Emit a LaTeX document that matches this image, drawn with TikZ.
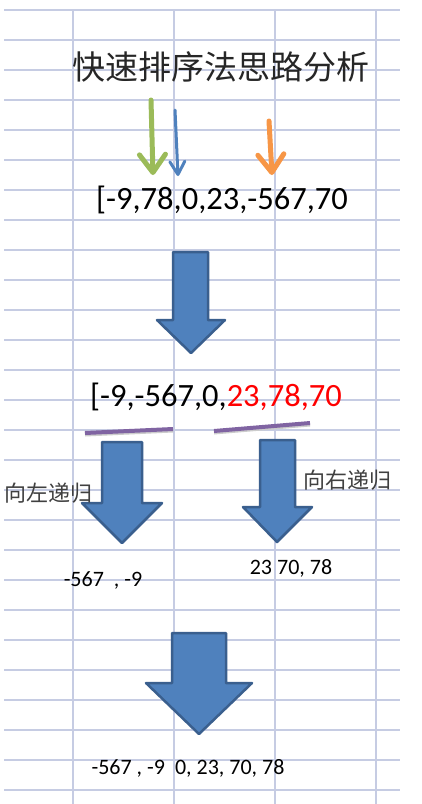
\documentclass[tikz,border=0pt]{standalone}
\usepackage{fontspec}
\setmainfont{Carlito}
\newfontfamily\cjk{Noto Sans CJK SC}
\usetikzlibrary{arrows.meta}
\definecolor{gridc}{HTML}{C6CCE3}
\definecolor{barfill}{HTML}{4F81BD}
\definecolor{barborder}{HTML}{3A5F8E}
\definecolor{ogreen}{HTML}{9BBB59}
\definecolor{oblue}{HTML}{4F81BD}
\definecolor{oorange}{HTML}{F79646}
\definecolor{opurple}{HTML}{8064A2}
\definecolor{ored}{HTML}{FF0000}
\begin{document}
\begin{tikzpicture}[x=1pt,y=-1pt,
  gridline/.style={draw=gridc, line width=1.2pt},
  blockarrow/.style={fill=barfill, draw=barborder, line width=2.5pt, line join=round},
  bigtext/.style={inner sep=0pt, font=\fontsize{32.5}{38}\selectfont},
  smalltext/.style={inner sep=0pt, font=\fontsize{22}{26}\selectfont},
  cjklabel/.style={inner sep=0pt, text=black!75, font=\cjk\fontsize{22}{26}\selectfont},
  pointer/.style={line cap=round, -{Straight Barb[round,length=18pt,width=26pt]}},
  underline/.style={draw=opurple, line width=4pt},
  ushadow/.style={draw=black!20, line width=4pt}
]
\useasboundingbox (0,0) rectangle (422,804);
\fill[white] (0,0) rectangle (422,804);
% grid
\foreach \k in {0,...,26} \draw[gridline] (4,10+30*\k) -- (400,10+30*\k);
\foreach \x in {73,174,275,376} \draw[gridline] (\x,10) -- (\x,804);

% title
\node[inner sep=0pt, text=black!85, font=\cjk\fontsize{33}{38}\selectfont] (title) at (221,67) {快速排序法思路分析};

% first array
\node[bigtext] (a1) at (222,200) {[-9,78,0,23,-567,70};

% pointer arrows
\coordinate (gs) at (151,100);
\coordinate (ge) at (153,175);
\coordinate (bs) at (175,110);
\coordinate (be) at (178,176);
\coordinate (os) at (269,121);
\coordinate (oe) at (272,175);
\draw[pointer, draw=ogreen, line width=5pt] (gs) -- (ge);
\draw[line cap=round, draw=oblue, line width=3pt, -{Straight Barb[round,length=13pt,width=15pt]}] (bs) -- (be);
\draw[pointer, draw=oorange, line width=5pt] (os) -- (oe);

% big arrow 1
\draw[blockarrow] (173,252) -- (208,252) -- (208,320) -- (225,320) -- (191,353) -- (157,320) -- (173,320) -- cycle;

% second array
\node[bigtext] (a2) at (216,397) {[-9,-567,0,\textcolor{ored}{23,78,70}};

% underlines
\coordinate (u1s) at (85,433);
\coordinate (u1e) at (173,429);
\coordinate (u2s) at (214,431);
\coordinate (u2e) at (310,423);
\draw[ushadow] ([yshift=-1.5pt]u1s) -- ([yshift=-1.5pt]u1e);
\draw[ushadow] ([yshift=-1.5pt]u2s) -- ([yshift=-1.5pt]u2e);
\draw[underline] (u1s) -- (u1e);
\draw[underline] (u2s) -- (u2e);

% left / right arrows
\draw[blockarrow] (102,442) -- (142,442) -- (142,503) -- (162,503) -- (122,543) -- (82,503) -- (102,503) -- cycle;
\draw[blockarrow] (260,440) -- (295,440) -- (295,507) -- (312,507) -- (277,542) -- (243,507) -- (260,507) -- cycle;

% labels
\node[cjklabel] (ll) at (49,493) {向左递归};
\node[cjklabel] (rl) at (347,480) {向右递归};

% partial results
\node[smalltext] (lr) at (103,580) {-567\ \ , -9};
\node[smalltext] (rr) at (291,568) {23 70, 78};

% bottom arrow
\draw[blockarrow] (172,633) -- (226,633) -- (226,683) -- (252,683) -- (199,734) -- (146,683) -- (172,683) -- cycle;

% final
\node[smalltext] (fin) at (188,768) {-567 , -9\ \ 0, 23, 70, 78};
\end{tikzpicture}
\end{document}
